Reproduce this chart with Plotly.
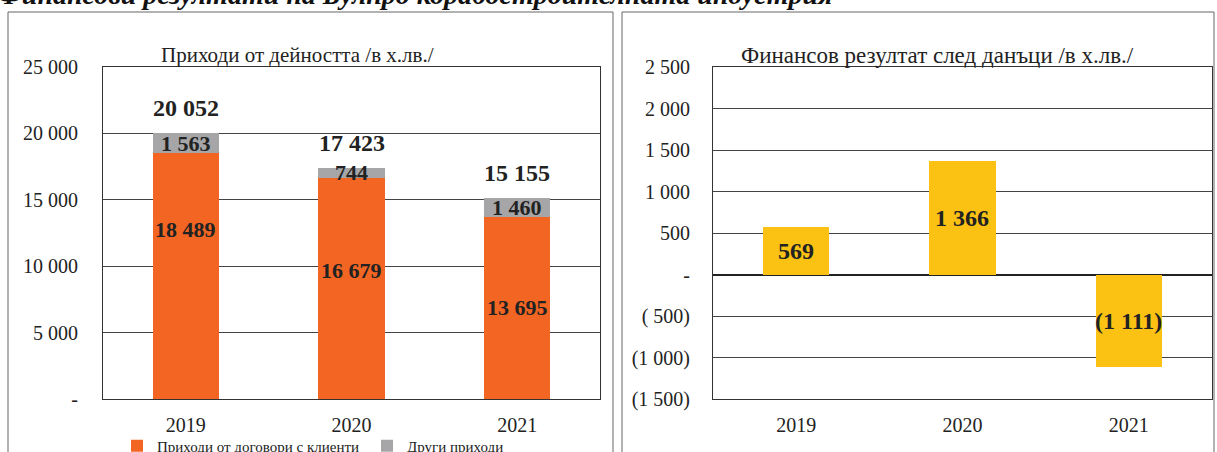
import plotly.graph_objects as go

years = ["2019", "2020", "2021"]
contracts = [18489, 16679, 13695]
other = [1563, 744, 1460]
totals = [20052, 17423, 15155]
result = [569, 1366, -1111]

left_ticks = [0, 5000, 10000, 15000, 20000, 25000]
left_text = ["-", "5 000", "10 000", "15 000", "20 000", "25 000"]
right_ticks = [-1500, -1000, -500, 0, 500, 1000, 1500, 2000, 2500]
right_text = ["(1 500)", "(1 000)", "( 500)", "-", "500", "1 000", "1 500", "2 000", "2 500"]

ORANGE = "#F26522"
GREY = "#A6A6A8"
YELLOW = "#FBC213"
SERIF = "Liberation Serif"
W, H = 1217, 452


def fmt(v):
    s = f"{abs(v):,}".replace(",", " ")
    return f"({s})" if v < 0 else s


fig = go.Figure()
fig.add_trace(go.Bar(x=years, y=contracts, name="Приходи от договори с клиенти",
                     marker=dict(color=ORANGE, line=dict(width=0)), xaxis="x", yaxis="y"))
fig.add_trace(go.Bar(x=years, y=other, name="Други приходи",
                     marker=dict(color=GREY, line=dict(width=0)), xaxis="x", yaxis="y"))
fig.add_trace(go.Bar(x=years, y=result, showlegend=False,
                     marker=dict(color=YELLOW, line=dict(width=0)), xaxis="x2", yaxis="y2"))

ann = []
lbl = dict(family=SERIF, size=22, color="#222")
big = dict(family=SERIF, size=24, color="#222")
# orange labels sit a bit above centre in the original
orange_lbl_y = [12800, 9700, 6900]
# annotations on a category axis take the category index
for i, yr in enumerate(years):
    ann.append(dict(x=i, y=orange_lbl_y[i], xref="x", yref="y", text="<b>%s</b>" % fmt(contracts[i]),
                    showarrow=False, font=lbl))
    ann.append(dict(x=i, y=contracts[i] + other[i] / 2, xref="x", yref="y",
                    text="<b>%s</b>" % fmt(other[i]), showarrow=False, font=lbl))
    ann.append(dict(x=i, y=totals[i], xref="x", yref="y", text="<b>%s</b>" % fmt(totals[i]),
                    showarrow=False, yshift=25, font=big))
    ann.append(dict(x=i, y=result[i] / 2, xref="x2", yref="y2", text="<b>%s</b>" % fmt(result[i]),
                    showarrow=False, font=big))

ann.append(dict(x=297 / W, y=1 - 41 / H, xref="paper", yref="paper", xanchor="center",
                text="Приходи от дейността /в х.лв./", showarrow=False,
                font=dict(family=SERIF, size=21, color="#222")))
ann.append(dict(x=937 / W, y=1 - 41 / H, xref="paper", yref="paper", xanchor="center",
                text="Финансов резултат след данъци /в х.лв./", showarrow=False,
                font=dict(family=SERIF, size=23, color="#222")))
ann.append(dict(x=-4 / W, y=1.0, xref="paper", yref="paper", xanchor="left", yanchor="middle", yshift=6,
                text="<b><i>Финансови резултати на Булпро корабостроителната индустрия</i></b>",
                showarrow=False, font=dict(family=SERIF, size=28, color="#111")))

shapes = [
    dict(type="rect", xref="paper", yref="paper", x0=8 / W, x1=613 / W, y0=-0.2, y1=1 - 12 / H,
         line=dict(color="#666", width=1)),
    dict(type="rect", xref="paper", yref="paper", x0=622 / W, x1=1214 / W, y0=-0.2, y1=1 - 12 / H,
         line=dict(color="#666", width=1)),
]

tick_font = dict(family=SERIF, size=20, color="#222")
ydom = [1 - 399 / H, 1 - 67 / H]
axis_common = dict(showline=True, mirror=True, linecolor="#333", linewidth=1, ticks="",
                   tickfont=tick_font, fixedrange=True, automargin=False)

fig.update_layout(
    width=W, height=H,
    margin=dict(l=0, r=0, t=0, b=0, autoexpand=False),
    paper_bgcolor="white", plot_bgcolor="white",
    barmode="stack", bargap=0.6,
    font=dict(family=SERIF, color="#222"),
    xaxis=dict(domain=[103 / W, 600 / W], anchor="y", type="category", ticklabelstandoff=8,
               **axis_common),
    yaxis=dict(domain=ydom, anchor="x", range=[0, 25000], tickvals=left_ticks, ticktext=left_text,
               showgrid=True, gridcolor="#444", gridwidth=1, zeroline=False,
               ticklabelstandoff=20, **axis_common),
    xaxis2=dict(domain=[713 / W, 1212 / W], anchor="y2", type="category", ticklabelstandoff=8,
                **axis_common),
    yaxis2=dict(domain=ydom, anchor="x2", range=[-1500, 2500], tickvals=right_ticks, ticktext=right_text,
                showgrid=True, gridcolor="#444", gridwidth=1, zeroline=True, zerolinecolor="#222",
                zerolinewidth=2, ticklabelstandoff=18, **axis_common),
    legend=dict(orientation="h", x=117 / W, y=1 - 446 / H, xanchor="left", yanchor="middle",
                font=dict(family=SERIF, size=15, color="#222"), itemwidth=30,
                entrywidth=205, entrywidthmode="pixels",
                bgcolor="rgba(0,0,0,0)", traceorder="normal"),
    annotations=ann,
    shapes=shapes,
)

# the page body has an 8px default margin; drop it so the figure sits at the window corner
fig.write_html("out.html", config={"displayModeBar": False},
               post_script="document.body.style.margin='0';")
